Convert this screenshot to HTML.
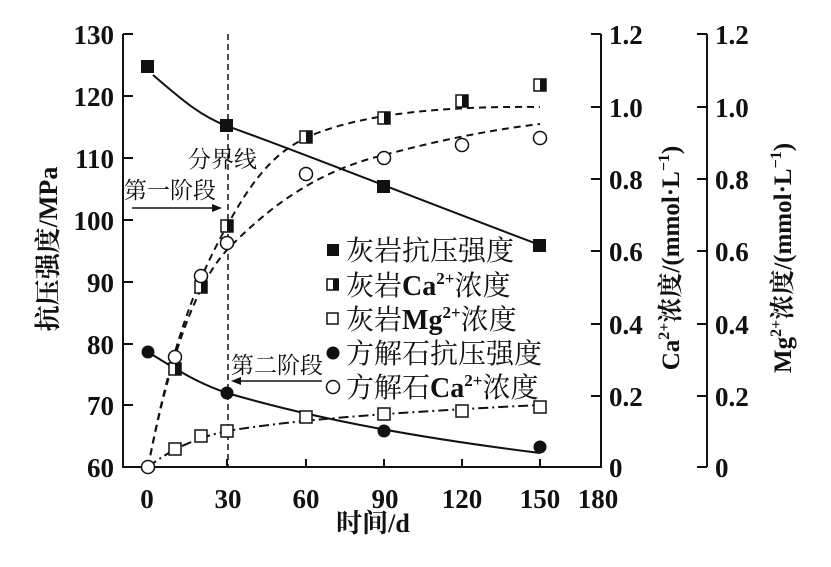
<!DOCTYPE html>
<html><head><meta charset="utf-8"><style>
body{margin:0;background:#fff}
svg text{font-family:"Liberation Serif","Noto Serif CJK SC",serif;fill:#111}
.n{font-size:27px;font-weight:bold}
.c{font-size:25px}
</style></head><body>
<svg width="831" height="562" xmlns="http://www.w3.org/2000/svg">
<g stroke="#111" stroke-width="2" fill="none">
<path d="M123,34 V467 H601 V34"/>
<path d="M123,34h10M123,96h10M123,158h10M123,220h10M123,282h10M123,344h10M123,405h10"/>
<path d="M601,34h-10M601,107h-10M601,179h-10M601,251h-10M601,324h-10M601,396h-10"/>
<path d="M707,34 V467 M697,34h10M697,107h10M697,179h10M697,251h10M697,324h10M697,396h10M697,467h10"/>
<path d="M227,467v-8M306,467v-8M384,467v-8M462,467v-8M540,467v-8"/>
</g>
<g text-anchor="end">
<text x="114" y="44" class="n">130</text><text x="114" y="106" class="n">120</text><text x="114" y="168" class="n">110</text><text x="114" y="230" class="n">100</text><text x="114" y="292" class="n">90</text><text x="114" y="354" class="n">80</text><text x="114" y="415" class="n">70</text><text x="114" y="477" class="n">60</text>
</g>
<g>
<text x="609" y="44" class="n">1.2</text><text x="609" y="117" class="n">1.0</text><text x="609" y="189" class="n">0.8</text><text x="609" y="261" class="n">0.6</text><text x="609" y="334" class="n">0.4</text><text x="609" y="406" class="n">0.2</text><text x="609" y="477" class="n">0</text>
<text x="715" y="44" class="n">1.2</text><text x="715" y="117" class="n">1.0</text><text x="715" y="189" class="n">0.8</text><text x="715" y="261" class="n">0.6</text><text x="715" y="334" class="n">0.4</text><text x="715" y="406" class="n">0.2</text><text x="715" y="477" class="n">0</text>
</g>
<g text-anchor="middle">
<text x="147" y="508" class="n">0</text><text x="228" y="508" class="n">30</text><text x="306" y="508" class="n">60</text><text x="385" y="508" class="n">90</text><text x="462" y="508" class="n">120</text><text x="540" y="508" class="n">150</text><text x="598" y="508" class="n">180</text>
<text x="373" y="532" style="font-size:26px;font-weight:bold">时间/d</text>
<text transform="translate(57,249) rotate(-90)" style="font-size:26px;font-weight:bold">抗压强度/MPa</text>
<text transform="translate(679,258) rotate(-90)" style="font-size:25px;font-weight:bold">Ca<tspan dy="-10" font-size="16">2+</tspan><tspan dy="10">浓度/(mmol·L</tspan><tspan dy="-10" font-size="16">−1</tspan><tspan dy="10">)</tspan></text>
<text transform="translate(791,258) rotate(-90)" style="font-size:25px;font-weight:bold">Mg<tspan dy="-10" font-size="16">2+</tspan><tspan dy="10">浓度/(mmol·L</tspan><tspan dy="-10" font-size="16">−1</tspan><tspan dy="10">)</tspan></text>
</g>
<path d="M228,34V467" stroke="#111" stroke-width="1.5" stroke-dasharray="6,4"/>
<text x="188" y="167" style="font-size:23px">分界线</text>
<text x="124" y="198" style="font-size:23px">第一阶段</text>
<path d="M132,208H216" stroke="#111" stroke-width="1.5"/><path d="M222,208l-10,-4v8z" fill="#111"/>
<text x="231" y="373" style="font-size:23px">第二阶段</text>
<path d="M322,381H238" stroke="#111" stroke-width="1.5"/><path d="M231,381l10,-4v8z" fill="#111"/>
<g fill="none" stroke="#111" stroke-width="2">
<path d="M153,75 C180,98 200,116 227,126 C300,152 420,200 540,245"/>
<path d="M148,352 C180,372 200,384 227,393 C320,420 420,438 540,453"/>
<path d="M148,467 C165,380 185,300 227,226 C260,165 285,145 320,132 C370,114 440,106 540,107" stroke-dasharray="7,5"/>
<path d="M148,467 C165,380 190,290 227,250 C280,195 330,168 384,155 C440,140 490,130 540,124" stroke-dasharray="7,5"/>
<path d="M148,467 C170,450 195,438 227,431 C300,419 400,412 540,405" stroke-dasharray="10,4,2,4"/>
</g>
<g fill="#111">
<rect x="141" y="60" width="13" height="13"/><rect x="220" y="119" width="13" height="13"/><rect x="377" y="180" width="13" height="13"/><rect x="533" y="239" width="13" height="13"/>
<circle cx="148" cy="352" r="6.5"/><circle cx="227" cy="393" r="6.5"/><circle cx="384" cy="431" r="6.5"/><circle cx="540" cy="447" r="6.5"/>
</g>
<g stroke="#111" stroke-width="1.5">
<g fill="#fff">
<rect x="169" y="363" width="12" height="12"/><rect x="195" y="281" width="12" height="12"/><rect x="221" y="220" width="12" height="12"/><rect x="300" y="131" width="12" height="12"/><rect x="378" y="112" width="12" height="12"/><rect x="456" y="95" width="12" height="12"/><rect x="534" y="79" width="12" height="12"/>
</g>
<g fill="#111" stroke="none">
<rect x="175" y="363" width="6.5" height="12.5"/><rect x="201" y="281" width="6.5" height="12.5"/><rect x="227" y="220" width="6.5" height="12.5"/><rect x="306" y="131" width="6.5" height="12.5"/><rect x="384" y="112" width="6.5" height="12.5"/><rect x="462" y="95" width="6.5" height="12.5"/><rect x="540" y="79" width="6.5" height="12.5"/>
</g>
<g fill="#fff">
<rect x="169" y="443" width="12" height="12"/><rect x="195" y="430" width="12" height="12"/><rect x="221" y="425" width="12" height="12"/><rect x="300" y="411" width="12" height="12"/><rect x="378" y="408" width="12" height="12"/><rect x="456" y="405" width="12" height="12"/><rect x="534" y="401" width="12" height="12"/>
<circle cx="175" cy="357" r="6.5"/><circle cx="201" cy="276" r="6.5"/><circle cx="227" cy="243" r="6.5"/><circle cx="306" cy="174" r="6.5"/><circle cx="384" cy="158" r="6.5"/><circle cx="462" cy="145" r="6.5"/><circle cx="540" cy="138" r="6.5"/>
<circle cx="148" cy="467" r="6.5"/>
</g>
</g>
<g>
<rect x="327" y="244" width="12" height="12" fill="#111"/>
<rect x="327" y="279" width="11" height="11" fill="#fff" stroke="#111" stroke-width="1.5"/><rect x="333" y="279" width="6" height="11.5" fill="#111"/>
<rect x="327" y="313" width="11" height="11" fill="#fff" stroke="#111" stroke-width="1.5"/>
<circle cx="333" cy="353" r="6.5" fill="#111"/>
<circle cx="333" cy="387" r="6.5" fill="#fff" stroke="#111" stroke-width="1.5"/>
<text x="346" y="260" style="font-size:28px">灰岩抗压强度</text>
<text x="346" y="295" style="font-size:28px">灰岩<tspan font-weight="bold">Ca</tspan><tspan dy="-11" font-size="17" font-weight="bold">2+</tspan><tspan dy="11">浓度</tspan></text>
<text x="346" y="329" style="font-size:28px">灰岩<tspan font-weight="bold">Mg</tspan><tspan dy="-11" font-size="17" font-weight="bold">2+</tspan><tspan dy="11">浓度</tspan></text>
<text x="346" y="363" style="font-size:28px">方解石抗压强度</text>
<text x="346" y="397" style="font-size:28px">方解石<tspan font-weight="bold">Ca</tspan><tspan dy="-11" font-size="17" font-weight="bold">2+</tspan><tspan dy="11">浓度</tspan></text>
</g>
</svg>
</body></html>
